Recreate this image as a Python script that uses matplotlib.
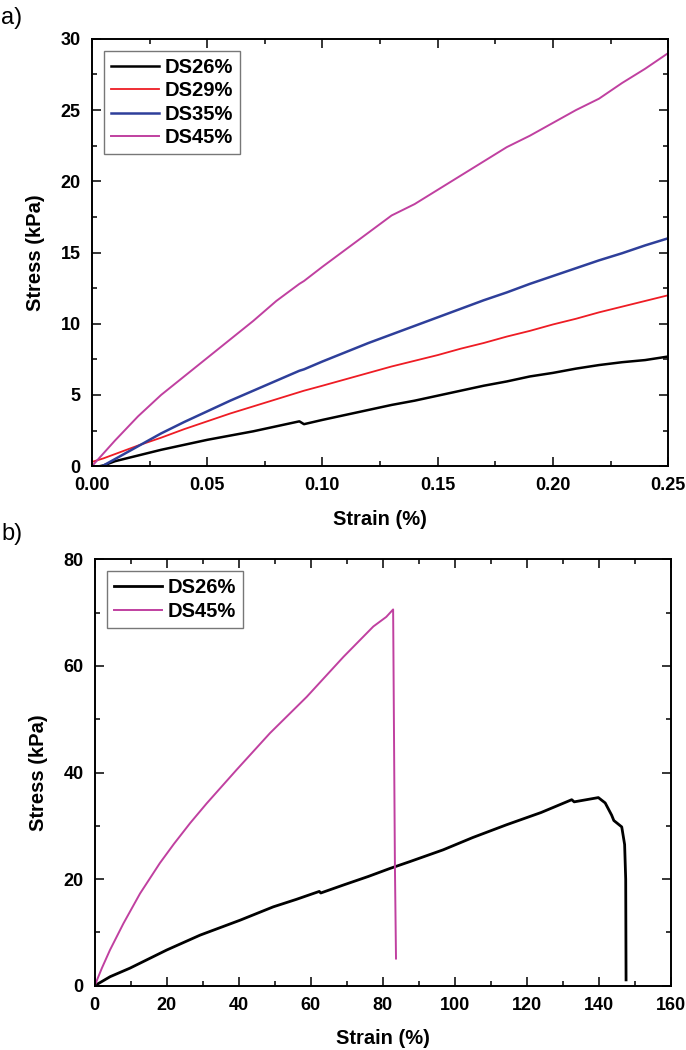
"""
Stress-strain curves for the DS hydrogels: a) small strain, b) up to failure
"""

import matplotlib.pyplot as plt
from matplotlib.ticker import MultipleLocator

plt.rcParams['font.family'] = ['Liberation Sans', 'DejaVu Sans']
plt.rcParams['font.weight'] = 'bold'

# panel a) data (strain %, stress kPa)
a_strain = [0.00, 0.005, 0.01, 0.02, 0.03, 0.04, 0.05, 0.06, 0.07, 0.08, 0.09,
            0.092, 0.10, 0.11, 0.12, 0.13, 0.14, 0.15, 0.16, 0.17, 0.18, 0.19,
            0.20, 0.21, 0.22, 0.23, 0.24, 0.25]
ds26_a = [-0.1, 0.05, 0.35, 0.75, 1.15, 1.5, 1.85, 2.15, 2.45, 2.8, 3.15,
          2.95, 3.25, 3.6, 3.95, 4.3, 4.6, 4.95, 5.3, 5.65, 5.95, 6.3,
          6.55, 6.85, 7.1, 7.3, 7.45, 7.7]
ds29_a = [0.3, 0.55, 0.85, 1.45, 2.0, 2.6, 3.15, 3.7, 4.2, 4.7, 5.2,
          5.3, 5.65, 6.1, 6.55, 7.0, 7.4, 7.8, 8.25, 8.65, 9.1, 9.5,
          9.95, 10.35, 10.8, 11.2, 11.6, 12.0]
ds35_a = [-0.3, 0.05, 0.5, 1.4, 2.3, 3.1, 3.85, 4.6, 5.3, 6.0, 6.7,
          6.8, 7.35, 8.0, 8.65, 9.25, 9.85, 10.45, 11.05, 11.65, 12.2, 12.8,
          13.35, 13.9, 14.45, 14.95, 15.5, 16.0]
ds45_a = [0.0, 0.9, 1.8, 3.5, 5.0, 6.3, 7.6, 8.9, 10.2, 11.6, 12.8,
          13.0, 14.0, 15.2, 16.4, 17.6, 18.4, 19.4, 20.4, 21.4, 22.4, 23.2,
          24.1, 25.0, 25.8, 26.9, 27.9, 29.0]

# panel b) data, up to break
ds26_b_strain = [0, 4.3, 9.8, 20, 29.3, 40.4, 49.6, 56, 62.4, 62.8, 69.1, 76,
                 82.0, 87.6, 96.8, 105, 114.4, 124, 132.5, 133.2, 139.9, 141.8,
                 143.6, 144.2, 146.4, 147.2, 147.5, 147.6]
ds26_b_stress = [0, 1.7, 3.3, 6.7, 9.5, 12.3, 14.8, 16.2, 17.7, 17.4, 18.9,
                 20.5, 22.0, 23.3, 25.5, 27.8, 30.2, 32.5, 34.9, 34.5, 35.3,
                 34.3, 32.0, 31.0, 29.8, 26.5, 20.0, 1.1]
ds45_b_strain = [0, 2, 4.25, 8, 12.6, 18.1, 22, 26.5, 31.1, 39.4, 48.7, 58.9,
                 69.1, 77.4, 81, 82.9, 83.4, 83.7]
ds45_b_stress = [0, 3.3, 6.7, 11.7, 17.3, 23.0, 26.6, 30.5, 34.2, 40.5, 47.4,
                 54.2, 61.7, 67.4, 69.2, 70.6, 22.3, 5.1]


def style_axis(ax):
    ax.tick_params(which='both', direction='in', top=True, right=True,
                   width=1.1, labelsize=13, pad=8)
    ax.tick_params(which='major', length=6.5)
    ax.tick_params(which='minor', length=3.6)
    for s in ax.spines.values():
        s.set_linewidth(1.4)
    ax.set_xlabel('Strain (%)', fontsize=14.5, fontweight='bold', labelpad=11)
    ax.set_ylabel('Stress (kPa)', fontsize=14.5, fontweight='bold', labelpad=11)


def add_legend(ax):
    leg = ax.legend(loc='upper left', fontsize=14.5, fancybox=False,
                    framealpha=1, edgecolor='#777777', handlelength=2.4,
                    borderaxespad=0.6, borderpad=0.35, labelspacing=0.22,
                    handletextpad=0.25)
    leg.get_frame().set_linewidth(1.0)


fig = plt.figure(figsize=(6.86, 10.5), dpi=100)

# a)
ax1 = fig.add_axes([0.134, 0.556, 0.840, 0.407])
ax1.plot(a_strain, ds26_a, color='black', lw=1.8, label='DS26%')
ax1.plot(a_strain, ds29_a, color='#ee1c24', lw=1.3, label='DS29%')
ax1.plot(a_strain, ds35_a, color='#2e3f9a', lw=1.8, label='DS35%')
ax1.plot(a_strain, ds45_a, color='#c040a0', lw=1.4, label='DS45%')
ax1.set_xlim(0, 0.25)
ax1.set_ylim(0, 30)
ax1.xaxis.set_major_locator(MultipleLocator(0.05))
ax1.xaxis.set_minor_locator(MultipleLocator(0.025))
ax1.yaxis.set_major_locator(MultipleLocator(5))
ax1.yaxis.set_minor_locator(MultipleLocator(2.5))
ax1.xaxis.set_major_formatter(lambda v, p: f'{v:.2f}')
style_axis(ax1)
add_legend(ax1)

# b)
ax2 = fig.add_axes([0.138, 0.0612, 0.8397, 0.4061])
ax2.plot(ds26_b_strain, ds26_b_stress, color='black', lw=2.0, label='DS26%')
ax2.plot(ds45_b_strain, ds45_b_stress, color='#c040a0', lw=1.4, label='DS45%')
ax2.set_xlim(0, 160)
ax2.set_ylim(0, 80)
ax2.xaxis.set_major_locator(MultipleLocator(20))
ax2.xaxis.set_minor_locator(MultipleLocator(10))
ax2.yaxis.set_major_locator(MultipleLocator(20))
ax2.yaxis.set_minor_locator(MultipleLocator(10))
style_axis(ax2)
add_legend(ax2)

fig.text(0.002, 0.993, 'a)', fontsize=17, fontweight='normal', va='top')
fig.text(0.002, 0.502, 'b)', fontsize=17, fontweight='normal', va='top')

plt.savefig('out.png', dpi=100)
